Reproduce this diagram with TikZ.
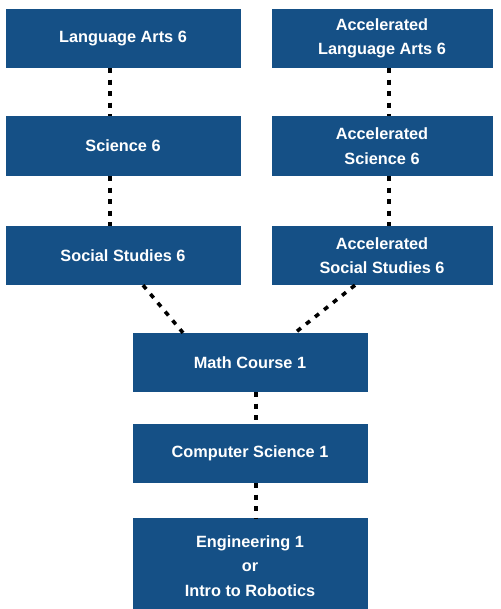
\documentclass[tikz,border=0pt]{standalone}
\usepackage{fontspec}
\setmainfont{Liberation Sans}
\definecolor{boxblue}{RGB}{21,80,134}
\begin{document}
\begin{tikzpicture}[x=1pt,y=-1pt,
  box/.style={fill=boxblue,draw=none,text=white,font=\bfseries\fontsize{16.3}{24.5}\selectfont,align=center,inner sep=0pt},
  link/.style={line width=3.6pt,dash pattern=on 5pt off 6.5pt,black}]
\useasboundingbox (0,0) rectangle (500,609);
\begin{scope}
\clip (0,0) rectangle (500,609);
\node[box,minimum width=235,minimum height=59] (la) at (123,38.5) {Language Arts 6};
\node[box,minimum width=221,minimum height=59] (ala) at (382,38.5) {Accelerated\\Language Arts 6};
\node[box,minimum width=235,minimum height=60] (sc) at (123,146) {Science 6};
\node[box,minimum width=221,minimum height=60] (asc) at (382,146) {Accelerated\\Science 6};
\node[box,minimum width=235,minimum height=59] (ss) at (123,255.5) {Social Studies 6};
\node[box,minimum width=221,minimum height=59] (ass) at (382,255.5) {Accelerated\\Social Studies 6};
\node[box,minimum width=235,minimum height=59] (mc) at (250,362.5) {Math Course 1};
\node[box,minimum width=235,minimum height=59] (cs) at (250,453.5) {Computer Science 1};
\node[box,minimum width=235,minimum height=96] (en) at (250,566) {Engineering 1\\or\\Intro to Robotics};
\end{scope}
\draw[link] (la.south -| 110,0) -- (sc.north -| 110,0);
\draw[link] (sc.south -| 110,0) -- (ss.north -| 110,0);
\draw[link] (ala.south -| 389,0) -- (asc.north -| 389,0);
\draw[link] (asc.south -| 389,0) -- (ass.north -| 389,0);
\draw[link] (ss.south -| 143,0) -- (mc.north -| 183,0);
\draw[link] (ass.south -| 355,0) -- (mc.north -| 295,0);
\draw[link] (mc.south -| 256,0) -- (cs.north -| 256,0);
\draw[link] (cs.south -| 256,0) -- (en.north -| 256,0);
\end{tikzpicture}
\end{document}
